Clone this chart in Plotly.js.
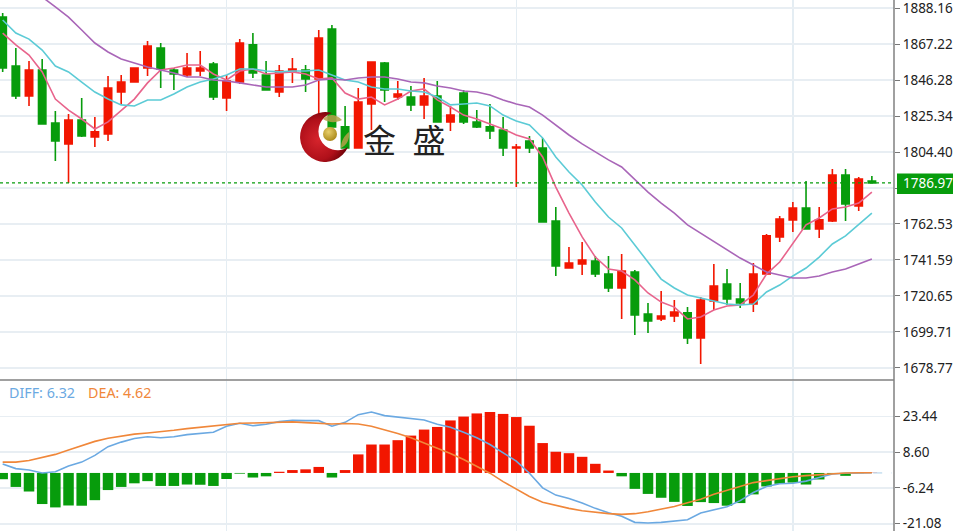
<!DOCTYPE html>
<html><head><meta charset="utf-8">
<script src="https://cdn.plot.ly/plotly-3.0.0.min.js"></script>
<style>html,body{margin:0;padding:0;background:#fff;overflow:hidden}#c{width:953px;height:531px}</style>
</head><body><div id="c"></div>
<script>
const open_ = [1882.9,1854.4,1837.0,1852.1,1821.3,1809.1,1823.0,1813.1,1814.9,1839.3,1845.1,1853.3,1864.9,1852.1,1849.2,1851.5,1855.6,1835.8,1845.1,1866.7,1849.2,1839.3,1851.0,1852.1,1846.9,1876.0,1819.0,1806.7,1832.3,1856.2,1836.4,1836.4,1831.8,1837.0,1821.9,1838.7,1821.9,1819.0,1817.2,1806.7,1810.8,1806.7,1764.3,1736.9,1739.3,1741.0,1733.4,1725.3,1734.6,1710.2,1707.3,1709.0,1710.8,1696.2,1717.7,1727.6,1718.9,1716.0,1733.4,1755.0,1764.9,1771.8,1759.6,1764.3,1791.0,1773.0,1787.5];
const high = [1885.3,1864.9,1857.4,1858.5,1828.3,1826.5,1835.8,1824.8,1848.6,1849.2,1853.3,1869.0,1867.8,1853.3,1862.0,1863.2,1856.8,1849.2,1870.1,1873.6,1857.4,1855.0,1859.1,1855.0,1875.4,1878.3,1831.2,1841.6,1856.8,1856.8,1845.7,1842.8,1847.5,1845.7,1831.2,1840.5,1828.8,1832.3,1824.8,1809.1,1813.7,1812.6,1772.4,1749.1,1752.1,1743.9,1743.9,1745.1,1735.8,1716.6,1723.6,1718.3,1714.2,1720.1,1739.3,1736.3,1728.2,1739.8,1756.7,1767.2,1775.3,1787.5,1772.4,1794.5,1794.5,1789.9,1790.5];
const low = [1851.0,1835.2,1831.2,1820.7,1799.2,1786.4,1813.1,1807.3,1810.8,1832.3,1845.1,1848.6,1841.6,1840.5,1848.0,1848.6,1834.7,1828.3,1844.0,1847.5,1840.5,1836.4,1844.6,1839.3,1825.9,1819.0,1806.7,1806.7,1817.2,1833.5,1834.7,1828.3,1823.6,1821.9,1816.6,1820.7,1818.4,1812.0,1802.1,1784.0,1803.8,1763.7,1732.3,1736.9,1732.9,1731.7,1723.0,1707.3,1698.0,1699.1,1706.1,1705.5,1692.7,1681.1,1712.5,1715.4,1713.7,1711.3,1733.4,1752.1,1757.9,1759.6,1754.4,1763.7,1764.3,1770.1,1786.4];
const close_ = [1853.3,1837.0,1852.1,1820.7,1810.8,1823.0,1813.7,1816.1,1841.6,1845.1,1853.3,1866.1,1852.7,1849.8,1853.3,1853.3,1836.4,1845.7,1867.8,1850.4,1840.5,1851.5,1852.7,1846.9,1870.7,1819.0,1806.7,1833.5,1856.8,1840.5,1838.1,1831.8,1837.0,1821.9,1825.9,1821.9,1819.0,1816.6,1806.7,1807.3,1806.7,1763.7,1738.1,1739.8,1741.6,1733.4,1725.3,1735.2,1709.6,1706.1,1709.0,1711.3,1696.2,1718.3,1726.5,1718.9,1716.6,1733.4,1755.6,1765.4,1771.8,1759.6,1764.9,1791.0,1774.2,1788.7,1786.4];
const ma5 = [1873.6,1866.7,1860.8,1851.0,1835.2,1828.8,1823.6,1817.8,1821.9,1828.8,1835.2,1844.6,1852.1,1853.3,1855.0,1855.0,1849.8,1846.3,1851.5,1852.7,1849.8,1850.4,1851.0,1849.8,1846.9,1847.5,1838.7,1835.2,1836.4,1831.8,1835.2,1839.9,1841.1,1834.7,1830.6,1825.9,1823.6,1820.7,1817.8,1814.3,1812.0,1801.5,1784.0,1768.9,1755.0,1743.3,1736.3,1735.2,1730.0,1722.4,1717.1,1714.2,1707.3,1708.4,1712.5,1714.8,1715.4,1721.2,1733.4,1740.4,1751.5,1762.0,1766.0,1771.3,1772.4,1774.7,1781.1];
const ma10 = [1881.2,1873.6,1870.1,1863.7,1854.4,1851.0,1845.1,1839.3,1835.2,1831.8,1831.2,1834.7,1834.7,1838.1,1842.2,1845.1,1846.9,1849.2,1852.7,1852.7,1851.5,1851.0,1851.5,1851.5,1852.1,1849.2,1846.3,1845.1,1842.2,1841.1,1841.1,1839.9,1839.3,1836.4,1831.8,1832.3,1832.9,1831.2,1825.9,1822.4,1820.1,1812.6,1801.5,1792.8,1785.2,1775.3,1766.6,1760.2,1750.3,1739.8,1730.5,1725.3,1721.2,1719.5,1717.7,1716.0,1715.4,1716.0,1723.0,1727.0,1732.3,1736.9,1743.3,1750.9,1755.6,1762.5,1768.9];
const ma20 = [1916.0,1909.0,1902.0,1894.6,1888.8,1882.9,1875.4,1867.8,1862.6,1858.5,1856.2,1853.9,1852.1,1850.4,1848.0,1848.0,1846.3,1845.7,1844.6,1843.4,1842.2,1842.2,1842.2,1843.4,1846.3,1846.9,1846.3,1847.5,1848.0,1848.0,1846.9,1845.1,1844.6,1842.8,1841.6,1839.9,1839.3,1837.6,1834.7,1832.3,1830.6,1825.9,1820.1,1814.3,1809.1,1804.4,1799.8,1795.7,1788.1,1781.1,1774.7,1768.9,1762.0,1757.3,1752.1,1747.4,1742.7,1738.7,1734.6,1732.9,1731.1,1731.1,1732.3,1734.6,1736.3,1739.2,1742.2];
const macdHist = [-2.6,-5.8,-7.7,-12.9,-14.3,-13.5,-13.6,-11.3,-7.1,-5.8,-4.3,-3.4,-5.4,-5.4,-4.8,-4.9,-5.4,-2.5,-0.3,-1.9,-1.4,0.5,1.2,1.5,2.5,-1.9,1.2,7.7,11.8,11.8,13.6,15.5,18.0,19.1,21.8,23.4,24.7,25.3,24.5,23.2,19.6,12.4,8.8,8.2,6.7,3.8,1.0,-1.4,-6.6,-8.7,-10.3,-12.0,-13.7,-12.1,-12.5,-13.6,-12.5,-8.9,-5.6,-4.5,-4.0,-4.8,-2.7,-0.4,-1.2,-0.1,0.1];
const diff = [3.7,1.8,1.2,0,0.5,2.9,4.5,7.3,10.9,12.8,14.3,15.0,14.6,15.0,15.9,16.4,16.9,19.4,20.6,19.6,20.2,21.3,21.8,21.7,21.7,19.4,21.0,24.2,25.3,23.8,23.2,22.5,22.0,20.2,19.0,16.9,14.6,11.8,8.4,4.9,-0.1,-6.2,-9.2,-10.6,-12.5,-14.7,-16.5,-18.0,-20.5,-20.8,-20.5,-20.1,-19.4,-16.6,-15.3,-14.0,-11.5,-8.1,-5.6,-4.5,-4.3,-3.4,-1.9,-0.4,-0.1,0,0.1];
const dea = [4.5,4.5,5.2,6.3,7.7,9.5,11.4,13.1,14.4,15.3,16.1,16.6,17.0,17.7,18.4,19.0,19.6,20.3,20.6,20.7,20.9,21.2,21.2,20.9,20.6,20.3,20.5,20.3,19.4,18.0,16.4,14.6,12.5,10.3,8.1,5.6,2.9,-0.1,-3.6,-6.7,-9.8,-12.2,-13.6,-14.7,-15.7,-16.4,-16.9,-17.2,-16.9,-16.1,-15.0,-13.9,-12.4,-10.9,-8.8,-7.1,-5.4,-4.0,-3.2,-2.3,-1.6,-1.1,-0.7,-0.1,0,0.1,0.1];
const priceTicks = [1888.16,1867.22,1846.28,1825.34,1804.40,1783.46,1762.53,1741.59,1720.65,1699.71,1678.77];
const priceLabels = ['1888.16','1867.22','1846.28','1825.34','1804.40','','1762.53','1741.59','1720.65','1699.71','1678.77'];
const macdTicks = [23.44,8.60,-6.24,-21.08];
const macdLabels = ['23.44','8.60','-6.24','-21.08'];
const vGrid = [17,39,60];
const lastPriceLabel = '1786.97', lastPriceLevel = 1786.4;
const idx = open_.map((_,i)=>i);

const RED='#f21600', GREEN='#079c0c';
const W=953,H=531,AX=894,SEP=380;
const px=x=>x/W, py=y=>1-y/H;
const xr=[-0.203,67.68];
const tickFont={family:'"Noto Sans",Tahoma,sans-serif',size:13.5,color:'#222'};
const lineTrace=(y,c,xa,ya,w)=>({type:'scatter',mode:'lines',x:idx,y:y,xaxis:xa,yaxis:ya,line:{color:c,width:w||1.6},hoverinfo:'skip',cliponaxis:true});

const traces=[
 {type:'candlestick',x:idx,open:open_,high:high,low:low,close:close_,xaxis:'x',yaxis:'y',
  increasing:{line:{color:RED,width:1.6},fillcolor:RED},
  decreasing:{line:{color:GREEN,width:1.6},fillcolor:GREEN},whiskerwidth:0},
 lineTrace(ma5,'#e8648c','x','y'),
 lineTrace(ma10,'#5ccbd6','x','y'),
 lineTrace(ma20,'#a966b8','x','y'),
 {type:'bar',x:idx,y:macdHist,xaxis:'x2',yaxis:'y2',width:0.8,
  marker:{color:macdHist.map(v=>v>=0?RED:GREEN),line:{width:0}}},
 lineTrace(diff,'#6ba9e2','x2','y2'),
 lineTrace(dea,'#f0873a','x2','y2')
];

const logo=`<svg xmlns="http://www.w3.org/2000/svg" viewBox="0 0 52 50" width="52" height="50">
<defs><radialGradient id="r" cx="38%" cy="55%" r="62%"><stop offset="0" stop-color="#d6242c"/><stop offset="0.65" stop-color="#b0101a"/><stop offset="1" stop-color="#6e0208"/></radialGradient>
<radialGradient id="g" cx="40%" cy="35%" r="70%"><stop offset="0" stop-color="#e8cf6a"/><stop offset="1" stop-color="#a88616"/></radialGradient></defs>
<path d="M32,1 A25,25 0 1 0 48,35 A19,19 0 1 1 32,1 Z" fill="url(#r)"/>
<path d="M23,7 C29,1 36,2 42,8 C36,11 29,11 23,7 Z" fill="#b5a04a" fill-opacity="0.85"/>
<path d="M41,36 C41,29 44,24 49,20 C50,27 47,33 41,36 Z" fill="#b5a04a" fill-opacity="0.85"/>
<circle cx="30" cy="22" r="7" fill="url(#g)"/></svg>`;

const layout={
 width:W,height:H,margin:{l:0,r:0,t:0,b:0},paper_bgcolor:'#fff',plot_bgcolor:'#fff',
 showlegend:false,dragmode:false,boxgap:0.2,bargap:0.2,hovermode:false,
 xaxis:{domain:[0,px(AX)],range:xr,anchor:'y',tickvals:vGrid,showticklabels:false,ticks:'',showgrid:true,gridcolor:'#e4edf3',gridwidth:1.5,zeroline:false,rangeslider:{visible:false},showline:false,fixedrange:true},
 yaxis:{domain:[py(SEP),1],range:[1671.78,1892.83],side:'right',anchor:'x',tickvals:priceTicks,ticktext:priceLabels,ticks:'outside',ticklen:5,tickcolor:'#777',tickwidth:1,tickfont:tickFont,ticklabeloverflow:'allow',showgrid:true,gridcolor:'#e8eef3',gridwidth:1.5,zeroline:false,showline:false,fixedrange:true},
 xaxis2:{domain:[0,px(AX)],range:xr,anchor:'y2',tickvals:vGrid,showticklabels:false,ticks:'',showgrid:true,gridcolor:'#e4edf3',gridwidth:1.5,zeroline:false,showline:false,fixedrange:true},
 yaxis2:{domain:[0,py(SEP+1)],range:[-24.09,38.16],side:'right',anchor:'x2',tickvals:macdTicks,ticktext:macdLabels,ticks:'outside',ticklen:5,tickcolor:'#777',tickwidth:1,tickfont:tickFont,ticklabeloverflow:'allow',showgrid:true,gridcolor:'#e8eef3',gridwidth:1.5,zeroline:false,showline:false,fixedrange:true},
 shapes:[
  {type:'line',xref:'paper',yref:'paper',x0:px(AX),x1:px(AX),y0:0,y1:1,line:{color:'#808080',width:1.5},layer:'above'},
  {type:'line',xref:'paper',yref:'paper',x0:0,x1:px(AX),y0:py(SEP),y1:py(SEP),line:{color:'#808080',width:1.5},layer:'above'},
  {type:'line',xref:'x',yref:'y',x0:xr[0],x1:xr[1],y0:lastPriceLevel,y1:lastPriceLevel,line:{color:'#079c0c',width:1.2,dash:'dot'},layer:'above'},
  {type:'rect',xref:'paper',yref:'paper',x0:px(897),x1:1,y0:py(173.5),y1:py(194),fillcolor:'#079c0c',line:{width:0},layer:'above'},
  {type:'line',xref:'x2',yref:'y2',x0:66.1,x1:67.5,y0:0,y1:0,line:{color:'#a9cfe8',width:1,dash:'dash'},layer:'above'}
 ],
 images:[{source:'data:image/svg+xml;charset=utf-8,'+encodeURIComponent(logo),xref:'paper',yref:'paper',x:px(300),y:py(112),sizex:52/W,sizey:50/H,xanchor:'left',yanchor:'top',sizing:'stretch',layer:'above'}],
 annotations:[
  {xref:'paper',yref:'paper',x:px(902),y:py(183.5),xanchor:'left',yanchor:'middle',text:lastPriceLabel,showarrow:false,font:{family:tickFont.family,size:13.5,color:'#fff'},borderpad:0},
  {xref:'paper',yref:'paper',x:px(7.5),y:py(392.5),xanchor:'left',yanchor:'middle',text:'DIFF: 6.32',showarrow:false,font:{family:'"Noto Sans",sans-serif',size:14.3,color:'#6ba9e2'},borderpad:0},
  {xref:'paper',yref:'paper',x:px(86.5),y:py(392.5),xanchor:'left',yanchor:'middle',text:'DEA: 4.62',showarrow:false,font:{family:'"Noto Sans",sans-serif',size:14.3,color:'#f0873a'},borderpad:0},
  {xref:'paper',yref:'paper',x:px(404),y:py(139),xanchor:'center',yanchor:'middle',text:'金\u2002盛',showarrow:false,font:{family:'"Noto Sans CJK SC",sans-serif',size:33,color:'#222'},borderpad:0}
 ]
};
Plotly.newPlot('c',traces,layout,{displayModeBar:false,staticPlot:true});
</script></body></html>
